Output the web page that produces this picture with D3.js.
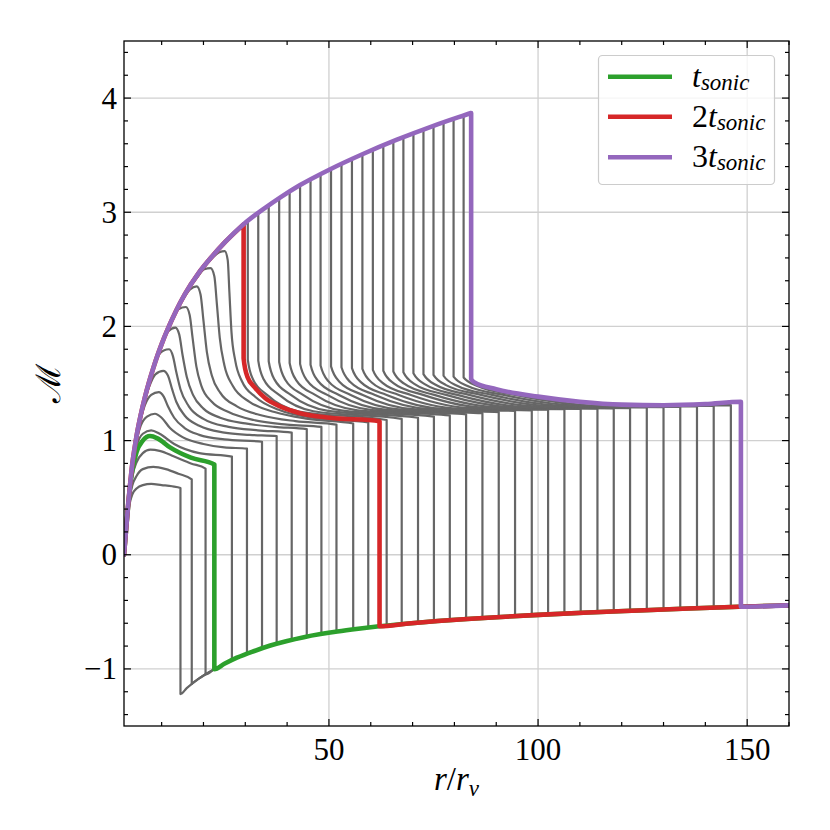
<!DOCTYPE html>
<html><head><meta charset="utf-8">
<script src="https://cdn.jsdelivr.net/npm/d3@7"></script>
<style>body{margin:0;background:#fff}svg{display:block}</style>
</head><body>
<svg id="chart" width="830" height="830"></svg>
<script>
// ---------------- data ----------------
// upper (supersonic) envelope
const envR = [1, 1.5, 2, 2.5, 3, 3.5, 4, 5, 6, 7, 8, 9, 10, 11.5, 13.5, 15.6, 18.8, 22, 25.2, 29.6, 35, 38.3, 43, 50.2, 58, 66.1, 75, 84];
const envM = [0, 0.22, 0.44, 0.63, 0.8, 0.925, 1.04, 1.225, 1.38, 1.515, 1.635, 1.745, 1.845, 1.98, 2.14, 2.285, 2.465, 2.61, 2.74, 2.895, 3.045, 3.128, 3.236, 3.375, 3.508, 3.633, 3.757, 3.87];
// lower (infall) branch
const infR = [14.5, 16, 17.3, 18.8, 20.5, 22.6, 25, 28, 32, 36, 40, 44, 48, 52, 57, 62, 69, 76, 83, 90, 100, 112, 124, 136, 148, 160];
const infM = [-1.22, -1.168, -1.128, -1.088, -1.047, -1.002, -0.955, -0.902, -0.845, -0.795, -0.755, -0.722, -0.695, -0.672, -0.648, -0.627, -0.602, -0.581, -0.563, -0.547, -0.527, -0.506, -0.488, -0.471, -0.456, -0.443];

// early snapshots (own rising branch from r = 1), last point = top of the shock
const earlyCurves = [
  [[1,0],[1.5,0.2],[2,0.37],[2.5,0.47],[3,0.53],[4,0.58],[5.5,0.61],[7.5,0.62],[10,0.61],[12.5,0.6],[14.5,0.585]],
  [[1,0],[1.5,0.21],[2,0.4],[2.5,0.53],[3,0.61],[4,0.69],[5.5,0.75],[8,0.77],[11,0.75],[14,0.71],[17.2,0.66]],
  [[1,0],[1.5,0.21],[2,0.42],[2.5,0.58],[3,0.69],[4,0.81],[5.5,0.89],[7.3,0.92],[9.5,0.91],[13,0.86],[17,0.8],[20.5,0.755]]
];
const greenCurve = [[1,0],[1.5,0.22],[2,0.43],[2.5,0.61],[3,0.74],[4,0.9],[5.5,1.0],[7.2,1.04],[9,1.02],[12,0.94],[17,0.85],[22.6,0.79]];
const midEarly = [
  [[1,0],[1.5,0.22],[2,0.44],[2.5,0.62],[3,0.77],[4,0.95],[5.5,1.06],[7.5,1.09],[9.5,1.06],[13,0.97],[19,0.89],[26.8,0.86]],
  [[1,0],[1.5,0.22],[2,0.44],[2.5,0.63],[3,0.79],[4,1.0],[5,1.13],[6.5,1.21],[8.4,1.235],[10,1.2],[12,1.11],[15,1.03],[20,0.97],[25,0.94],[30.4,0.93]]
];
// snapshots that leave the envelope with a rounded top
const midCurves = [
  [[5,1.19],[6,1.31],[7.5,1.40],[9.3,1.425],[10.5,1.385],[11.5,1.30],[13,1.20],[15.5,1.11],[19,1.05],[25,1.01],[34,0.99]],
  [[6,1.36],[7,1.47],[8.5,1.58],[10.4,1.61],[11.5,1.57],[12.5,1.45],[13.5,1.34],[15.5,1.22],[19,1.13],[25,1.07],[31,1.05],[37.5,1.04]],
  [[8,1.625],[9,1.73],[10.5,1.79],[11.8,1.80],[12.7,1.74],[13.5,1.60],[14.5,1.45],[16.5,1.30],[20,1.19],[26,1.12],[33,1.09],[41.1,1.07]],
  [[10,1.835],[11.5,1.955],[13.3,1.99],[14.2,1.93],[15,1.75],[16,1.56],[17.5,1.40],[20,1.28],[24,1.20],[30,1.15],[37,1.12],[44.7,1.10]],
  [[12.5,2.05],[14,2.15],[15.8,2.17],[16.7,2.10],[17.4,1.90],[18.3,1.65],[19.5,1.48],[22,1.34],[26,1.25],[32,1.18],[40,1.14],[48.2,1.12]],
  [[15,2.232],[16.8,2.325],[18.4,2.35],[19.3,2.28],[20,2.05],[20.8,1.78],[22,1.57],[24,1.42],[28,1.30],[34,1.22],[42,1.17],[51.8,1.14]],
  [[18.5,2.43],[20.2,2.50],[21.7,2.51],[22.6,2.44],[23.2,2.20],[23.9,1.90],[25,1.66],[27,1.48],[31,1.34],[37,1.25],[45,1.19],[55.8,1.15]],
  [[22,2.595],[23.8,2.65],[25.1,2.66],[25.8,2.58],[26.2,2.30],[26.7,1.95],[27.6,1.70],[29.2,1.52],[32.5,1.38],[38,1.27],[46,1.20],[59.4,1.16]]
];
// red (2 t_sonic): inner shock radius, post-shock branch, outer shock at last point
const redShockR = 29.6;
const redPost = [[29.6,1.72],[30.5,1.56],[32.4,1.46],[34.8,1.37],[38.3,1.30],[43.1,1.24],[50.2,1.20],[62.1,1.17]];
// late snapshots: inner shock radius and post-shock branch (last point = outer shock)
const lateShockR = [30.6, 33.1, 35.6, 38.1, 40.6, 43.1, 45.6, 48.0, 50.5, 53.0, 55.5, 58.0, 60.5, 63.0, 65.4, 67.8, 70.2, 72.6, 75.0, 77.4, 79.8, 82.2];
const latePost = [
  [[30.6,1.71],[31.8,1.54],[35.2,1.40],[42.8,1.255],[63.8,1.18]],
  [[33.1,1.70],[34.4,1.537],[38.1,1.40],[46.3,1.257],[67.4,1.19]],
  [[35.6,1.695],[37.0,1.534],[40.9,1.40],[49.8,1.26],[71.3,1.20]],
  [[38.1,1.688],[39.6,1.531],[43.8,1.40],[53.3,1.262],[75.1,1.21]],
  [[40.6,1.68],[42.2,1.528],[46.7,1.40],[56.8,1.265],[78.9,1.22]],
  [[43.1,1.672],[44.8,1.525],[49.6,1.40],[60.3,1.267],[82.8,1.23]],
  [[45.6,1.665],[47.4,1.522],[52.4,1.40],[63.8,1.269],[86.7,1.24]],
  [[48.0,1.658],[49.9,1.519],[55.2,1.40],[67.2,1.272],[90.6,1.25]],
  [[50.5,1.65],[52.5,1.516],[58.1,1.40],[70.7,1.274],[94.5,1.26]],
  [[53.0,1.642],[55.1,1.513],[61.0,1.40],[74.2,1.277],[98.5,1.265]],
  [[55.5,1.635],[57.7,1.51],[63.8,1.40],[77.7,1.279],[102.4,1.27]],
  [[58.0,1.628],[60.3,1.507],[66.7,1.40],[81.2,1.281],[106.3,1.275]],
  [[60.5,1.62],[62.9,1.504],[69.6,1.40],[84.7,1.284],[110.2,1.278]],
  [[63.0,1.612],[65.5,1.501],[72.5,1.40],[88.2,1.286],[114.2,1.28]],
  [[65.4,1.605],[68.0,1.498],[75.2,1.40],[91.6,1.289],[118.1,1.282]],
  [[67.8,1.598],[70.5,1.495],[78.0,1.40],[94.9,1.291],[122.0,1.285]],
  [[70.2,1.59],[73.0,1.492],[80.7,1.40],[98.3,1.293],[126.0,1.29]],
  [[72.6,1.582],[75.5,1.489],[83.5,1.40],[101.6,1.296],[130.0,1.293]],
  [[75.0,1.575],[78.0,1.486],[86.3,1.40],[105.0,1.298],[134.0,1.296]],
  [[77.4,1.568],[80.5,1.483],[89.0,1.40],[108.4,1.301],[138.0,1.30]],
  [[79.8,1.56],[83.0,1.48],[91.8,1.40],[111.7,1.303],[142.0,1.305]],
  [[82.2,1.552],[85.5,1.477],[94.5,1.40],[115.1,1.305],[146.1,1.31]]
];
// purple (3 t_sonic)
const purpleShockR = 84;
const purplePost = [[84,1.54],[84.8,1.51],[90,1.45],[100,1.385],[110,1.34],[120,1.315],[130,1.31],[140,1.32],[148.5,1.34]];

const xMajor = [50, 100, 150];
const yMajor = [-1, 0, 1, 2, 3, 4];
const yTickLabels = ["\u22121", "0", "1", "2", "3", "4"];
const legendLabels = [["", "t", "sonic"], ["2", "t", "sonic"], ["3", "t", "sonic"]];
const colors = {gray: "#666666", green: "#2ca02c", red: "#d62728", purple: "#9467bd"};

// ---------------- layout ----------------
const L = 124, R = 789, T = 41, B = 726;
const svg = d3.select("#chart");
const x = d3.scaleLinear().domain([1, 160]).range([L, R]);
const y = d3.scaleLinear().domain([-1.5, 4.5]).range([B, T]);
const envAt = d3.scaleLinear().domain(envR).range(envM);
const infAt = d3.scaleLinear().domain(infR).range(infM);
const FONT = "'Liberation Serif', 'Times New Roman', serif";

svg.append("defs").append("clipPath").attr("id", "clip")
  .append("rect").attr("x", L).attr("y", T).attr("width", R - L).attr("height", B - T);

// grid
const grid = svg.append("g").attr("stroke", "#d0d0d0").attr("stroke-width", 1.3);
xMajor.forEach(v => grid.append("line").attr("x1", x(v)).attr("x2", x(v)).attr("y1", T).attr("y2", B));
yMajor.forEach(v => grid.append("line").attr("y1", y(v)).attr("y2", y(v)).attr("x1", L).attr("x2", R));

// curve assembly
function assemble(own, withEnv) {
  let pts = [];
  if (withEnv) envR.forEach((r, i) => { if (r < own[0][0] - 0.05) pts.push([r, envM[i]]); });
  own.forEach(p => pts.push([p[0], p[1]]));
  const rs = own[own.length - 1][0];
  pts.push([rs, infAt(rs)]);
  infR.forEach((r, i) => { if (r > rs + 1e-6) pts.push([r, infM[i]]); });
  for (let i = 1; i < pts.length; i++) if (pts[i][0] <= pts[i - 1][0]) pts[i][0] = pts[i - 1][0] + 1e-3;
  return pts;
}
// shock rising straight out of the envelope: keep the corner sharp
function shocked(shockR, post) {
  return [[shockR - 0.02, envAt(shockR - 0.02)], [shockR, envAt(shockR)]].concat(post);
}
const line = d3.line().x(d => x(d[0])).y(d => y(d[1])).curve(d3.curveMonotoneX);

const plot = svg.append("g").attr("clip-path", "url(#clip)")
  .attr("fill", "none").attr("stroke-linejoin", "round").attr("stroke-linecap", "round");

const grays = [];
earlyCurves.forEach(c => grays.push(assemble(c, false)));
midEarly.forEach(c => grays.push(assemble(c, false)));
midCurves.forEach(c => grays.push(assemble(c, true)));
lateShockR.forEach((r, i) => grays.push(assemble(shocked(r, latePost[i]), true)));

grays.forEach(p => plot.append("path").attr("d", line(p)).attr("stroke", colors.gray).attr("stroke-width", 2.2));

plot.append("path").attr("d", line(assemble(greenCurve, false))).attr("stroke", colors.green).attr("stroke-width", 4.6);
plot.append("path").attr("d", line(assemble(shocked(redShockR, redPost), true))).attr("stroke", colors.red).attr("stroke-width", 4.6);
plot.append("path").attr("d", line(assemble(shocked(purpleShockR, purplePost), true))).attr("stroke", colors.purple).attr("stroke-width", 4.6);

// frame & ticks
const ax = svg.append("g").attr("stroke", "#000").attr("stroke-width", 1.2);
const xMinor = d3.range(10, 161, 10).filter(v => !xMajor.includes(v));
const yMinor = d3.range(-14, 45, 2).map(v => v / 10).filter(v => !Number.isInteger(v));
function xt(v, len) {
  ax.append("line").attr("x1", x(v)).attr("x2", x(v)).attr("y1", B).attr("y2", B - len);
  ax.append("line").attr("x1", x(v)).attr("x2", x(v)).attr("y1", T).attr("y2", T + len);
}
function yt(v, len) {
  ax.append("line").attr("y1", y(v)).attr("y2", y(v)).attr("x1", L).attr("x2", L + len);
  ax.append("line").attr("y1", y(v)).attr("y2", y(v)).attr("x1", R).attr("x2", R - len);
}
xMajor.forEach(v => xt(v, 7)); xMinor.forEach(v => xt(v, 4));
yMajor.forEach(v => yt(v, 7)); yMinor.forEach(v => yt(v, 4));
svg.append("rect").attr("x", L).attr("y", T).attr("width", R - L).attr("height", B - T)
  .attr("fill", "none").attr("stroke", "#000").attr("stroke-width", 1.3);

// tick labels
const tl = svg.append("g").attr("font-family", FONT).attr("font-size", 31).attr("fill", "#000");
xMajor.forEach(v => tl.append("text").attr("x", x(v)).attr("y", 760).attr("text-anchor", "middle").text(String(v)));
yMajor.forEach((v, i) => tl.append("text").attr("x", 117).attr("y", y(v) + 10.5).attr("text-anchor", "end").text(yTickLabels[i]));

// axis labels
const xl = svg.append("text").attr("x", (L + R) / 2).attr("y", 790).attr("text-anchor", "middle")
  .attr("font-family", FONT).attr("font-size", 33);
xl.append("tspan").attr("font-style", "italic").text("r");
xl.append("tspan").text("/");
xl.append("tspan").attr("font-style", "italic").text("r");
xl.append("tspan").attr("font-style", "italic").attr("font-size", 23).attr("dy", 6).text("\u03bd");

svg.append("text").attr("transform", `translate(60,${(T + B) / 2}) rotate(-90)`)
  .attr("text-anchor", "middle").attr("font-family", "'DejaVu Serif', serif").attr("font-size", 34)
  .text("\u2133");

// legend
const lg = svg.append("g");
lg.append("rect").attr("x", 598.5).attr("y", 55.5).attr("width", 176).attr("height", 129).attr("rx", 4)
  .attr("fill", "#fff").attr("fill-opacity", 0.8).attr("stroke", "#cccccc").attr("stroke-width", 1.2);
const legColors = [colors.green, colors.red, colors.purple];
const legY = [76.7, 116.7, 157.3];
legendLabels.forEach((lab, i) => {
  lg.append("line").attr("x1", 608).attr("x2", 672).attr("y1", legY[i]).attr("y2", legY[i])
    .attr("stroke", legColors[i]).attr("stroke-width", 4.6);
  const t = lg.append("text").attr("x", 692).attr("y", legY[i] + 10).attr("font-family", FONT).attr("font-size", 32);
  if (lab[0]) t.append("tspan").text(lab[0]);
  t.append("tspan").attr("font-style", "italic").text(lab[1]);
  t.append("tspan").attr("font-style", "italic").attr("font-size", 23).attr("dy", 3).text(lab[2]);
});
</script>
</body></html>
